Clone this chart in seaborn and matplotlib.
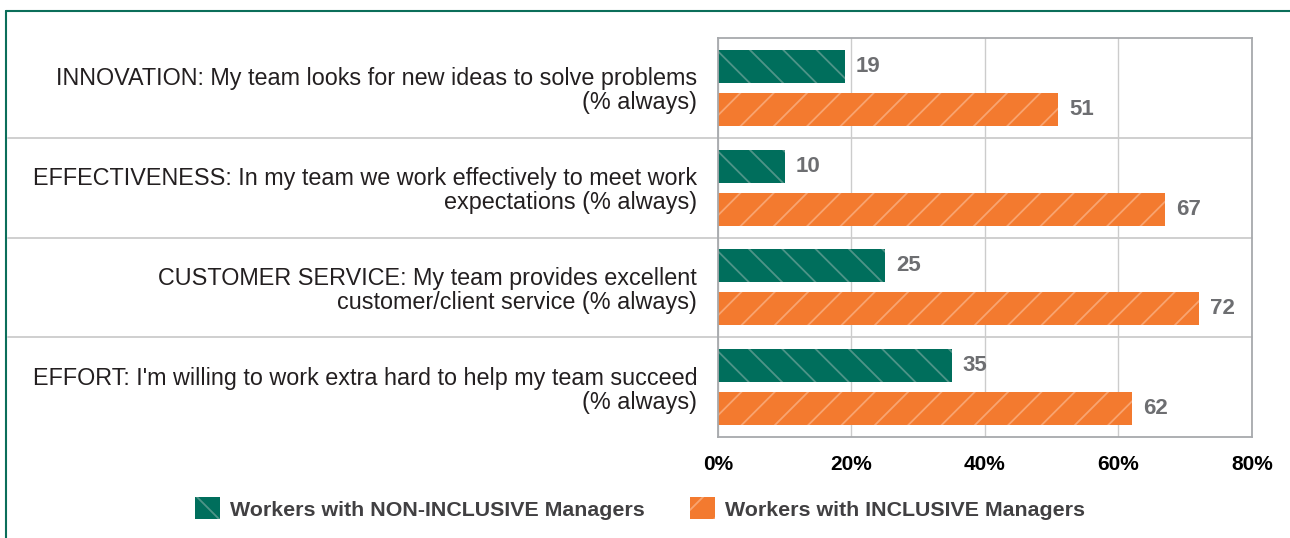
import numpy as np
import pandas as pd
import matplotlib.pyplot as plt
import seaborn as sns
from matplotlib.lines import Line2D
from matplotlib.patches import Patch

# Data
categories = [
    "INNOVATION: My team looks for new ideas to solve problems\n(% always)",
    "EFFECTIVENESS: In my team we work effectively to meet work\nexpectations (% always)",
    "CUSTOMER SERVICE: My team provides excellent\ncustomer/client service (% always)",
    "EFFORT: I'm willing to work extra hard to help my team succeed\n(% always)",
]
groups = ["Workers with NON-INCLUSIVE Managers", "Workers with INCLUSIVE Managers"]
non_inclusive = [19, 10, 25, 35]
inclusive = [51, 67, 72, 62]
x_ticks = [0, 20, 40, 60, 80]
x_tick_labels = ["0%", "20%", "40%", "60%", "80%"]

green = "#006e5c"
orange = "#f37a2f"
green_hatch = "#4f9488"
orange_hatch = "#f8a470"

df = pd.DataFrame({
    "category": categories * 2,
    "group": [groups[0]] * 4 + [groups[1]] * 4,
    "value": non_inclusive + inclusive,
})

sns.set_style("white")
plt.rcParams["font.family"] = ["Liberation Sans", "DejaVu Sans"]
plt.rcParams["hatch.linewidth"] = 1.3

fig = plt.figure(figsize=(12.9, 5.38), dpi=100)
ax = fig.add_axes([0.5566, 0.1877, 0.4139, 0.7417])

sns.barplot(data=df, y="category", x="value", hue="group", orient="h",
            palette=[green, orange], width=0.86, gap=0.23, ax=ax,
            legend=False, saturation=1)

# hatching: green "\", orange "/"
hatch_cols = {0: ("\\", green_hatch), 1: ("/", orange_hatch)}
for i, cont in enumerate(ax.containers):
    h, hc = hatch_cols[i]
    for bar in cont:
        bar.set_hatch(h)
        bar.set_edgecolor(hc)
        bar.set_linewidth(0)
    ax.bar_label(cont, labels=[f"{v:.0f}" for v in cont.datavalues], padding=8,
                 fontsize=16, fontweight="bold", color="#6d6e71")

ax.set_xlim(0, 80)
ax.set_ylim(3.5, -0.5)
ax.set_xticks(x_ticks)
ax.set_xticklabels(x_tick_labels, fontsize=15, fontweight="bold", color="black")
ax.tick_params(axis="x", length=5, color="#b0b0b0", pad=8, width=1)
ax.tick_params(axis="y", length=0, pad=15, labelsize=16.8, labelcolor="#231f20")
for lab in ax.get_yticklabels():
    lab.set_horizontalalignment("right")
    lab.set_multialignment("right")
    lab.set_linespacing(1.05)
ax.set_xlabel("")
ax.set_ylabel("")
ax.grid(axis="x", color="#cccccc", linewidth=1)
ax.set_axisbelow(True)
for s in ax.spines.values():
    s.set_color("#a7a9ac")
    s.set_linewidth(1.3)

# category separators reaching into the label area
for yv in [0.5, 1.5, 2.5]:
    ax.add_line(Line2D([-1.33, 1], [yv, yv], transform=ax.get_yaxis_transform(),
                       color="#cccccc", linewidth=1.3, clip_on=False))

# green frame on the left/top
fig.add_artist(Line2D([6 / 1290, 6 / 1290], [0, 1 - 11 / 538], transform=fig.transFigure,
                      color="#0b6e5a", linewidth=1.5))
fig.add_artist(Line2D([6 / 1290, 1], [1 - 11 / 538, 1 - 11 / 538], transform=fig.transFigure,
                      color="#0b6e5a", linewidth=1.5))

handles = [Patch(facecolor=green, edgecolor=green_hatch, hatch="\\", linewidth=0),
           Patch(facecolor=orange, edgecolor=orange_hatch, hatch="/", linewidth=0)]
leg = fig.legend(handles, groups, loc="center", bbox_to_anchor=(0.496, 0.055), ncol=2,
                 frameon=False, handlelength=1.2, handleheight=1.2, handletextpad=0.45,
                 columnspacing=2.1, prop={"size": 15.4, "weight": "bold"})
for t in leg.get_texts():
    t.set_color("#414042")

fig.savefig("out.png", dpi=100)
